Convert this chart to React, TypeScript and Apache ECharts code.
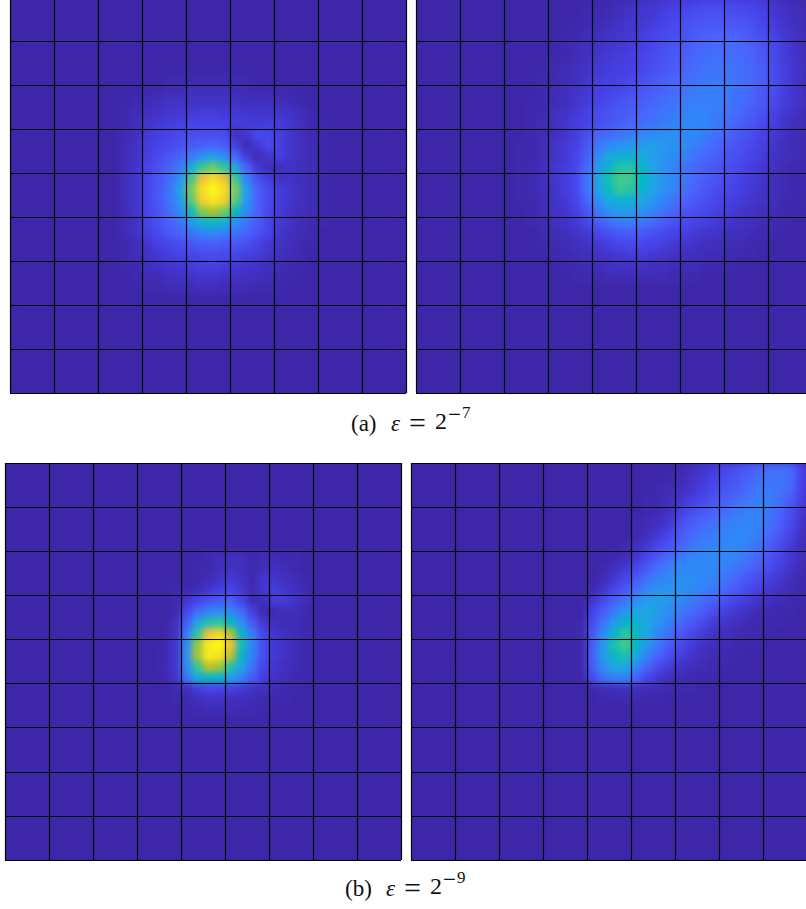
import React, { useEffect, useRef } from "react";
import * as echarts from "echarts";

const parula = ["#3e26a8","#4742e9","#4a64fc","#2f88f8","#1ea8e4","#01b8c3","#2cc7a0","#72cd5f","#bcc129","#f6ba3c","#f8d82a","#f9fb15"];
const GRID = 36;
const OFFSET = 10;

// values (0-100); window starts at [firstCol, firstRow]
const topLeftFirst = [10, 7];
const topLeftRows = [
[0,0,0,0,1,1,1,1,1,1,1,1,0,0,0,0,0,0,0],
[0,0,1,1,2,2,3,3,3,3,2,2,1,1,1,1,0,0,0],
[0,1,2,3,4,4,4,4,4,4,4,3,3,3,2,2,1,0,0],
[1,2,3,4,5,6,6,7,7,6,6,5,5,5,5,4,2,1,0],
[1,3,5,6,7,8,9,9,9,9,7,7,6,7,7,5,3,1,1],
[2,3,6,8,9,11,12,12,12,12,3,5,11,10,8,5,3,1,1],
[2,4,7,9,11,13,15,17,18,16,8,2,6,11,8,5,3,2,1],
[2,4,8,11,14,18,24,30,34,28,19,7,2,5,8,5,3,2,1],
[2,5,9,13,17,24,38,56,62,54,36,18,6,2,3,4,3,2,1],
[3,5,10,14,20,30,57,84,92,84,56,26,13,7,4,4,3,2,1],
[3,5,10,15,22,35,65,92,100,92,64,33,17,11,7,5,3,2,1],
[3,5,10,15,22,32,60,88,95,88,60,32,18,11,7,5,3,2,1],
[2,5,10,14,20,28,48,66,72,64,46,28,18,10,7,4,3,2,1],
[2,4,9,13,17,22,32,42,46,40,30,22,16,10,6,4,2,1,1],
[2,4,8,11,15,18,22,26,28,25,21,18,14,9,5,3,2,1,0],
[1,3,5,8,10,12,14,16,16,15,14,12,9,6,4,3,1,1,0],
[1,2,4,6,8,9,10,11,12,11,10,8,7,5,3,2,1,0,0],
[1,1,3,4,5,6,7,8,8,7,6,5,4,3,2,1,1,0,0],
[0,1,2,2,3,4,4,5,5,4,4,3,3,2,1,1,0,0,0],
[0,0,1,1,2,2,2,3,3,2,2,2,1,1,1,0,0,0,0],
];

const topRightFirst = [8, 0];
const topRightRows = [
[0,0,0,0,0,0,0,0,1,1,2,3,4,5,6,7,8,9,10,10,10,9,8,7,5,3,2,1],
[0,0,0,0,0,0,0,1,1,2,3,4,5,6,8,9,11,12,13,13,13,12,11,9,6,4,3,2],
[0,0,0,0,0,0,1,1,2,3,4,5,6,7,9,11,13,14,15,15,15,14,13,10,7,5,3,2],
[0,0,0,0,0,1,1,2,3,4,5,6,7,9,11,12,14,16,17,18,18,17,15,12,9,6,4,2],
[0,0,0,0,0,1,2,3,4,5,6,7,8,10,12,14,16,18,19,20,20,19,17,14,11,7,4,2],
[0,0,0,0,1,1,2,3,5,6,7,8,9,11,13,15,17,19,21,21,21,20,18,15,11,7,5,2],
[0,0,0,0,1,2,3,4,6,7,8,9,10,12,14,16,18,20,22,22,22,21,19,16,12,8,5,3],
[0,0,0,1,1,2,3,5,7,8,9,10,12,14,16,18,20,22,23,23,23,21,19,16,12,8,5,3],
[0,0,0,1,2,3,4,6,8,9,10,12,14,16,18,20,22,24,25,25,23,21,19,15,12,8,5,3],
[0,0,1,1,2,3,5,7,9,11,13,15,16,18,20,22,24,25,25,25,23,21,18,15,11,7,5,3],
[0,0,1,1,3,4,6,8,11,13,15,16,18,20,22,24,26,26,26,24,22,19,16,13,9,6,4,2],
[0,0,1,2,3,5,7,9,12,14,16,18,20,22,24,26,27,27,26,23,20,17,14,11,8,5,3,2],
[0,0,1,2,3,5,7,12,17,20,22,24,26,28,29,29,28,27,24,21,17,15,12,9,6,4,2,1],
[0,1,1,2,4,6,8,14,23,27,30,32,33,33,32,30,28,25,22,18,15,13,11,8,5,3,2,1],
[0,1,1,2,4,6,9,16,27,35,40,41,38,34,31,28,25,22,18,16,13,12,9,7,4,3,2,1],
[0,1,1,3,5,7,10,19,32,44,52,53,44,35,30,26,22,19,16,14,12,10,8,6,4,2,1,1],
[0,1,1,3,5,7,10,21,35,49,58,57,46,37,31,27,23,19,16,13,11,9,7,5,3,2,1,1],
[0,1,1,3,4,7,10,21,34,47,56,54,43,35,30,26,21,17,14,12,10,8,6,4,3,2,1,1],
[0,1,1,2,4,6,9,18,29,38,42,41,37,32,27,22,18,15,12,10,8,7,5,4,3,1,1,1],
[0,0,1,2,4,5,8,14,23,30,33,33,31,27,22,18,14,12,10,8,7,5,4,3,2,1,1,0],
[0,0,1,2,3,4,6,10,16,20,24,25,23,20,16,13,11,9,8,6,5,4,3,2,1,1,0,0],
[0,0,0,1,2,3,4,6,10,13,15,16,15,13,11,9,8,6,5,4,3,3,2,1,1,0,0,0],
[0,0,0,1,1,2,3,4,6,8,10,11,10,9,8,6,5,4,3,3,2,2,1,1,0,0,0,0],
[0,0,0,0,1,1,2,3,4,5,6,7,7,6,5,4,3,3,2,2,1,1,1,0,0,0,0,0],
[0,0,0,0,0,1,1,2,2,3,4,4,4,3,3,2,2,2,1,1,1,0,0,0,0,0,0,0],
[0,0,0,0,0,0,1,1,1,2,2,2,2,2,2,1,1,1,0,0,0,0,0,0,0,0,0,0],
];

const bottomLeftFirst = [13, 8];
const bottomLeftRows = [
[0,0,0,0,0,1,2,3,3,1,2,2,1,1,0,0],
[0,0,0,0,1,1,3,4,3,1,3,3,2,1,0,0],
[0,0,0,0,1,2,4,6,4,1,5,5,3,2,1,0],
[0,0,1,1,2,5,8,9,6,1,6,7,5,3,1,0],
[0,0,1,5,10,13,15,17,10,2,3,7,7,4,2,0],
[0,0,1,10,20,26,28,28,20,8,1,1,3,3,1,0],
[0,0,3,16,36,52,55,46,30,15,6,3,2,2,1,0],
[0,0,4,24,54,82,90,72,44,24,10,5,3,2,1,0],
[0,1,5,28,68,96,100,84,50,27,12,6,4,2,1,0],
[0,1,5,30,70,96,94,74,44,26,12,6,4,2,1,0],
[0,1,5,28,56,74,70,52,36,22,10,5,3,2,1,0],
[0,1,4,22,38,46,42,34,26,16,8,4,3,1,1,0],
[0,0,1,3,7,9,9,8,6,4,3,2,1,1,0,0],
[0,0,1,1,3,4,4,3,3,2,1,1,1,0,0,0],
[0,0,0,1,1,2,2,2,1,1,1,0,0,0,0,0],
];

const bottomRightFirst = [14, 0];
const bottomRightRows = [
[0,0,0,0,0,0,0,0,0,0,1,3,5,7,10,12,15,18,20,21,19,9],
[0,0,0,0,0,0,0,0,0,1,2,4,6,9,12,14,17,20,22,23,20,10],
[0,0,0,0,0,0,0,0,1,2,3,5,8,11,14,16,20,23,24,22,18,9],
[0,0,0,0,0,0,0,1,1,3,5,8,11,14,17,20,23,25,25,21,16,8],
[0,0,0,0,0,0,0,1,2,4,8,12,15,18,20,23,25,26,23,18,12,6],
[0,0,0,0,0,0,1,2,3,6,12,16,19,21,24,26,27,26,22,17,11,5],
[0,0,0,0,0,0,1,3,6,10,15,19,22,24,26,27,27,25,20,15,9,4],
[0,0,0,0,0,1,3,6,10,14,18,22,25,26,27,27,26,22,17,12,7,3],
[0,0,0,0,1,2,5,10,15,20,23,26,27,28,27,26,23,19,14,10,6,3],
[0,0,0,1,3,6,10,15,21,25,27,28,28,27,26,23,20,16,12,8,5,2],
[0,0,0,2,6,10,15,21,26,28,29,29,27,26,23,19,15,12,8,6,3,1],
[0,0,1,5,10,15,21,27,30,31,30,28,26,23,19,15,12,8,6,4,2,1],
[0,0,5,12,17,23,29,33,34,31,28,24,21,17,13,10,7,5,3,2,1,1],
[0,0,9,16,24,31,36,36,33,28,24,20,16,12,8,6,4,2,2,1,1,0],
[0,1,12,22,33,44,42,37,31,25,20,15,11,7,5,3,2,1,1,1,0,0],
[0,1,15,28,45,55,46,35,27,21,15,11,7,4,3,2,1,1,1,0,0,0],
[0,1,16,32,51,58,45,32,23,16,11,7,4,3,2,1,1,1,0,0,0,0],
[0,1,17,33,47,51,38,26,18,12,8,5,3,2,1,1,0,0,0,0,0,0],
[0,1,16,28,37,37,28,18,11,7,4,3,2,1,1,0,0,0,0,0,0,0],
[0,0,12,22,26,26,18,10,6,3,2,1,1,1,0,0,0,0,0,0,0,0],
[0,0,1,2,3,3,3,2,2,1,1,1,0,0,0,0,0,0,0,0,0,0],
[0,0,0,1,1,1,1,1,1,0,0,0,0,0,0,0,0,0,0,0,0,0],
];

const panels = [
  { left: 10, top: -3, width: 396, height: 396, first: topLeftFirst, rows: topLeftRows },
  { left: 416, top: -3, width: 396, height: 396, first: topRightFirst, rows: topRightRows },
  { left: 5, top: 463, width: 396, height: 397, first: bottomLeftFirst, rows: bottomLeftRows },
  { left: 411, top: 463, width: 396, height: 397, first: bottomRightFirst, rows: bottomRightRows },
];

// caption pieces: text, x, y, font size, italic
const captionPieces: [string, number, number, number, boolean][] = [
  ["(a)", 351, 423, 23, false],
  ["ε", 391, 423, 23, true],
  ["=", 409, 422, 30, false],
  ["2", 435, 421, 24, false],
  ["−", 448, 414, 23, false],
  ["7", 462, 412, 17, false],
  ["(b)", 345, 888, 23, false],
  ["ε", 386, 888, 23, true],
  ["=", 404, 887, 30, false],
  ["2", 430, 886, 24, false],
  ["−", 443, 879, 23, false],
  ["9", 457, 877, 17, false],
];

const indices = Array.from({ length: GRID }, (_, i) => i);

function cells(first: number[], rows: number[][]) {
  const out: number[][] = [];
  for (const r of indices) {
    for (const c of indices) {
      const v = rows[r - first[1]]?.[c - first[0]] ?? 0;
      out.push([c, r, v]);
    }
  }
  return out;
}

function Heat({ index }: { index: number }) {
  const ref = useRef<HTMLDivElement>(null);
  const p = panels[index];
  useEffect(() => {
    const chart = echarts.init(ref.current!, undefined, { renderer: "svg" });
    chart.setOption({
      animation: false,
      grid: { left: 0, top: 0, right: 0, bottom: 0 },
      xAxis: { type: "category", data: indices, show: false },
      yAxis: { type: "category", data: indices, show: false, inverse: true },
      visualMap: { show: false, min: 0, max: 100, inRange: { color: parula } },
      series: [{ type: "heatmap", data: cells(p.first, p.rows), progressive: 0, emphasis: { disabled: true } }],
    });
    return () => chart.dispose();
  }, []);
  return (
    <div style={{ position: "absolute", left: p.left, top: p.top, width: p.width, height: p.height, overflow: "hidden", background: parula[0] }}>
      <div ref={ref} style={{ width: p.width, height: p.height, filter: "blur(3px)" }} />
    </div>
  );
}

function Overlay() {
  const ref = useRef<HTMLDivElement>(null);
  useEffect(() => {
    const chart = echarts.init(ref.current!, undefined, { renderer: "svg" });
    const axis = (i: number) => ({
      type: "value", gridIndex: i, min: 0, max: 9, interval: 1,
      axisLabel: { show: false }, axisTick: { show: false },
      axisLine: { show: false },
      splitLine: { show: true, lineStyle: { color: "#000", width: 1.2 } },
    });
    const font = "'Liberation Serif', serif";
    const graphic = captionPieces.map(([text, x, y, size, italic]) => ({
      type: "text", x: x + OFFSET, y: y + OFFSET,
      style: { text, font: `${italic ? "italic " : ""}${size}px ${font}`, fill: "#111", verticalAlign: "middle" },
    }));
    chart.setOption({
      animation: false,
      grid: panels.map((p) => ({ left: p.left + OFFSET, top: p.top + OFFSET, width: p.width, height: p.height, show: false })),
      xAxis: panels.map((_, i) => axis(i)),
      yAxis: panels.map((_, i) => axis(i)),
      series: panels.map((_, i) => ({ type: "line", xAxisIndex: i, yAxisIndex: i, data: [] })),
      graphic,
    });
    return () => chart.dispose();
  }, []);
  return <div ref={ref} style={{ position: "absolute", left: -OFFSET, top: -OFFSET, width: 806 + 3 * OFFSET, height: 909 + 3 * OFFSET }} />;
}

export default function App() {
  return (
    <div style={{ position: "fixed", left: 0, top: 0, width: 806, height: 909, overflow: "hidden", background: "#fff" }}>
      {panels.map((_, i) => <Heat key={i} index={i} />)}
      <Overlay />
    </div>
  );
}
